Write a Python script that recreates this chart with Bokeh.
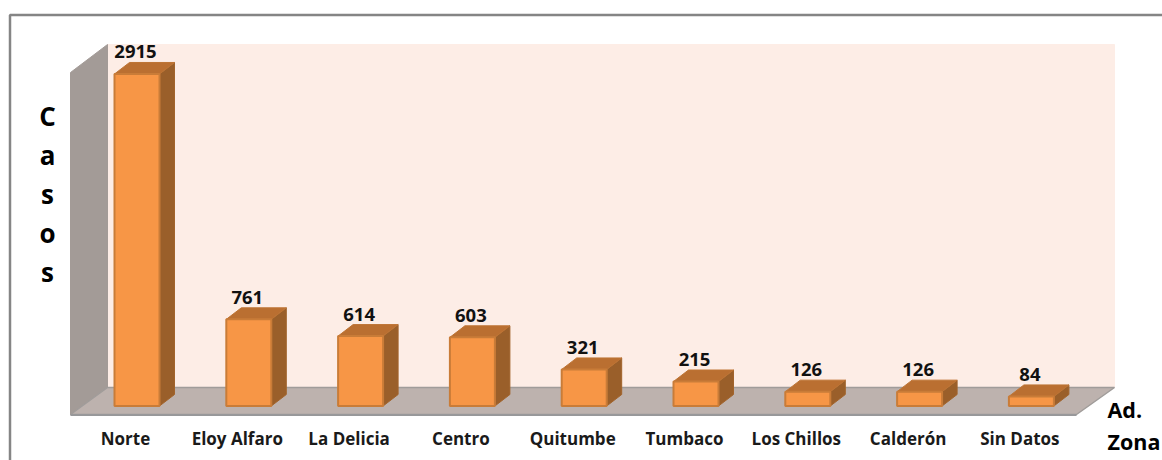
from bokeh.plotting import figure
from bokeh.models import Range1d
from bokeh.core.properties import value
from bokeh.embed import file_html
from bokeh.resources import INLINE

categories = ["Norte", "Eloy Alfaro", "La Delicia", "Centro", "Quitumbe", "Tumbaco", "Los Chillos", "Calderón", "Sin Datos"]
casos = [2915, 761, 614, 603, 321, 215, 126, 126, 84]
y_letters = ["C", "a", "s", "o", "s"]
x_title = ["Ad.", "Zona"]

W, H = 1162, 460
X0, STEP, BASE, PXV = 136.5, 111.8, 405.5, 0.1139   # image px of first bar, step, baseline, px per case
def xp(px): return (px - X0) / STEP          # image px -> category units
def yp(py): return (BASE - py) / PXV         # image px -> case units

p = figure(width=W, height=H, output_backend="svg", toolbar_location=None,
           x_range=Range1d(xp(0), xp(W)), y_range=Range1d(yp(H), yp(0)),
           min_border=0, outline_line_color=None, background_fill_color="white",
           border_fill_color="white", x_axis_type=None, y_axis_type=None)
p.grid.visible = False

def poly(pts, fill, line=None, lw=1):
    p.patch([xp(a) for a, b in pts], [yp(b) for a, b in pts], fill_color=fill,
            line_color=line or fill, line_width=lw)

# chart frame
p.line([xp(9.5), xp(9.5), xp(1162)], [yp(460), yp(14.5), yp(14.5)], line_color="#858585", line_width=2.5)

# 3D walls and floor
poly([(107, 44), (1114, 44), (1114, 387), (107, 387)], "#FDEDE6")
poly([(70, 72), (107, 44), (107, 387), (70, 414)], "#A39B97")
poly([(70, 414), (107, 387), (1114, 387), (1076, 414)], "#BDB2AE", "#A09C9A", 1.5)
p.line([xp(70), xp(1076)], [yp(414.5), yp(414.5)], line_color="#98989A", line_width=2)

# bars
HALF = 22.5 / STEP
DX, DY = 15 / STEP, 11.5 / PXV
for i, v in enumerate(casos):
    xl, xr = i - HALF, i + HALF
    p.patch([xr, xr + DX, xr + DX, xr], [0, DY, v + DY, v], fill_color="#9A5F2A", line_color="#A2642C", line_width=1)
    p.patch([xl, xl + DX, xr + DX, xr], [v, v + DY, v + DY, v], fill_color="#BA6F31", line_color="#BE7434", line_width=1)
p.vbar(x=list(range(len(casos))), top=casos, bottom=0, width=2 * HALF,
       fill_color="#F79646", line_color="#C97C38", line_width=2)

font = value("Open Sans")
# value labels
p.text(x=[i - 1.5 / STEP for i in range(len(casos))], y=[v + 11.5 / PXV + 4 / PXV for v in casos],
       text=[str(v) for v in casos], text_font=font, text_font_style="bold", text_font_size="18.5px",
       text_color="#111111", text_align="center", text_baseline="bottom")
# category labels
p.text(x=[i - 11.5 / STEP for i in range(len(categories))], y=[yp(438)] * len(categories), text=categories,
       text_font=font, text_font_style="bold", text_font_size="17px", text_color="#1a1a1a",
       text_align="center", text_baseline="middle")
# axis titles
p.text(x=[xp(47)] * 5, y=[yp(115 + 39.2 * k) for k in range(5)], text=y_letters, text_font=font,
       text_font_style="bold", text_font_size="26px", text_color="#000000",
       text_align="center", text_baseline="middle")
p.text(x=[xp(1107)] * 2, y=[yp(409), yp(441)], text=x_title, text_font=font, text_font_style="bold",
       text_font_size="21.5px", text_color="#000000", text_align="left", text_baseline="middle")

open("out.html", "w").write(file_html(p, INLINE))
